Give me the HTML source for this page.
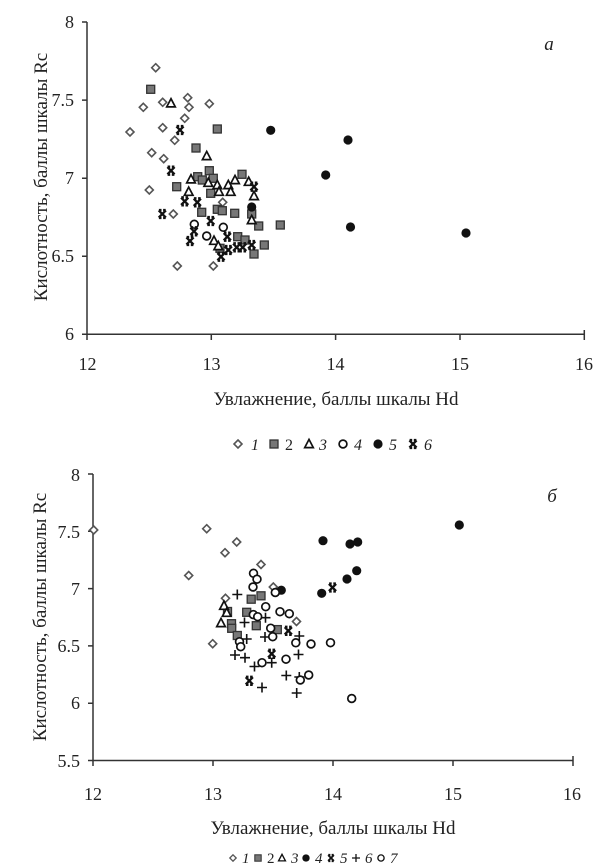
<!DOCTYPE html>
<html><head><meta charset="utf-8"><style>
html,body{margin:0;padding:0;background:#fff;}
svg{display:block;}
text{font-family:"Liberation Serif",serif;fill:#222;}
</style></head><body>
<svg width="600" height="868" viewBox="0 0 600 868" xmlns="http://www.w3.org/2000/svg">
<defs>
<path id="dm" d="M0,-4 L4,0 L0,4 L-4,0Z" fill="#fff" stroke="#555" stroke-width="1.6"/>
<rect id="sq" x="-4" y="-4" width="8" height="8" fill="#777" stroke="#333" stroke-width="1.3"/>
<path id="tr" d="M0,-4.6 L4.3,3.6 L-4.3,3.6Z" fill="#fff" stroke="#111" stroke-width="1.7"/>
<circle id="oc" r="3.9" fill="#fff" stroke="#111" stroke-width="1.7"/>
<circle id="fc" r="4.6" fill="#111"/>
<path id="xs" d="M-3.6,-3.6 L3.6,3.6 M3.6,-3.6 L-3.6,3.6 M-3.4,-4 H-0.8 M0.8,-4 H3.4 M-3.4,4 H-0.8 M0.8,4 H3.4" stroke="#111" stroke-width="2.3" fill="none"/>
<path id="pl" d="M-5,0 H5 M0,-5 V5" stroke="#111" stroke-width="1.6" fill="none"/>
</defs>
<rect width="600" height="868" fill="#fff"/>

<!-- ===== Chart a ===== -->
<g stroke="#333" stroke-width="1.5" fill="none">
<path d="M87,22 V334.3 H584.3"/>
<path d="M82,22 H87 M82,100.1 H87 M82,178.2 H87 M82,256.2 H87 M82,334.3 H87"/>
<path d="M87,334.3 V340 M211.3,334.3 V340 M335.6,334.3 V340 M460,334.3 V340 M584.3,330 V340"/>
</g>
<g font-size="18" text-anchor="end">
<text x="74" y="28">8</text>
<text x="74" y="106">7.5</text>
<text x="74" y="184">7</text>
<text x="74" y="262">6.5</text>
<text x="74" y="340">6</text>
</g>
<g font-size="18" text-anchor="middle">
<text x="87.5" y="370">12</text>
<text x="211.5" y="370">13</text>
<text x="335.5" y="370">14</text>
<text x="460" y="370">15</text>
<text x="584" y="370">16</text>
</g>
<text x="336" y="405" font-size="19" text-anchor="middle">Увлажнение, баллы шкалы Hd</text>
<text transform="translate(47,177) rotate(-90)" font-size="19" text-anchor="middle">Кислотность, баллы шкалы Rc</text>
<text x="549" y="50" font-size="19" font-style="italic" text-anchor="middle">а</text>

<!-- series 1 diamonds -->
<use href="#dm" x="155.7" y="67.7"/><use href="#dm" x="162.7" y="102.3"/><use href="#dm" x="143.3" y="107.3"/>
<use href="#dm" x="187.7" y="97.7"/><use href="#dm" x="189" y="107.3"/><use href="#dm" x="209.3" y="103.7"/>
<use href="#dm" x="184.7" y="118.3"/><use href="#dm" x="130" y="132"/><use href="#dm" x="162.7" y="127.7"/>
<use href="#dm" x="174.7" y="140.3"/><use href="#dm" x="151.7" y="152.7"/><use href="#dm" x="163.7" y="158.7"/>
<use href="#dm" x="149.3" y="190"/><use href="#dm" x="222.7" y="202.3"/><use href="#dm" x="173.3" y="214"/>
<use href="#dm" x="177.3" y="266"/><use href="#dm" x="213.3" y="266"/>
<!-- series 2 squares -->
<use href="#sq" x="150.7" y="89.3"/><use href="#sq" x="217.3" y="129"/><use href="#sq" x="196" y="148"/>
<use href="#sq" x="209.3" y="170.7"/><use href="#sq" x="242" y="174.3"/><use href="#sq" x="176.7" y="186.7"/>
<use href="#sq" x="197.7" y="176.7"/><use href="#sq" x="202.3" y="180"/><use href="#sq" x="213.3" y="178.3"/>
<use href="#sq" x="210.7" y="193.3"/><use href="#sq" x="217.3" y="209.3"/><use href="#sq" x="222.3" y="210.7"/>
<use href="#sq" x="234.7" y="213.3"/><use href="#sq" x="201.7" y="212.3"/><use href="#sq" x="258.7" y="226"/>
<use href="#sq" x="280.3" y="225"/><use href="#sq" x="237.7" y="236.7"/><use href="#sq" x="245" y="240"/>
<use href="#sq" x="264.3" y="245"/><use href="#sq" x="220" y="248.3"/><use href="#sq" x="254" y="254"/>
<use href="#sq" x="251.7" y="214"/>
<!-- series 3 triangles -->
<use href="#tr" x="171" y="103.3"/><use href="#tr" x="206.7" y="156"/><use href="#tr" x="191" y="179.3"/>
<use href="#tr" x="208.3" y="182.7"/><use href="#tr" x="217.3" y="185"/><use href="#tr" x="188.7" y="191.7"/>
<use href="#tr" x="219" y="191.7"/><use href="#tr" x="228.3" y="185"/><use href="#tr" x="230.7" y="191.7"/>
<use href="#tr" x="235" y="180"/><use href="#tr" x="248.7" y="181.7"/><use href="#tr" x="254" y="196"/>
<use href="#tr" x="214" y="240.7"/><use href="#tr" x="218.3" y="246"/><use href="#tr" x="251.7" y="220"/>
<!-- series 4 open circles -->
<use href="#oc" x="223.3" y="227.3"/><use href="#oc" x="194.3" y="224.3"/><use href="#oc" x="206.7" y="236"/>
<!-- series 5 filled circles -->
<use href="#fc" x="270.7" y="130.3"/><use href="#fc" x="325.7" y="175"/><use href="#fc" x="348" y="140"/>
<use href="#fc" x="350.5" y="227"/><use href="#fc" x="466" y="233"/><use href="#fc" x="251.7" y="207"/>
<!-- series 6 x-stars -->
<use href="#xs" x="180" y="130"/><use href="#xs" x="171" y="170.7"/><use href="#xs" x="184.7" y="201.3"/>
<use href="#xs" x="197.3" y="202.3"/><use href="#xs" x="254" y="186.7"/><use href="#xs" x="162.3" y="214"/>
<use href="#xs" x="210.7" y="221"/><use href="#xs" x="194" y="231.3"/><use href="#xs" x="190" y="241"/>
<use href="#xs" x="227.3" y="236.7"/><use href="#xs" x="242.7" y="247.3"/><use href="#xs" x="228.3" y="250"/>
<use href="#xs" x="236.7" y="247.3"/><use href="#xs" x="251.7" y="245"/><use href="#xs" x="221" y="256.7"/>

<!-- legend a -->
<g font-size="16" font-style="italic">
<use href="#dm" x="238" y="444"/><text x="251" y="450">1</text>
<use href="#sq" x="274" y="444"/><text x="285" y="450" font-style="normal">2</text>
<use href="#tr" x="309" y="444"/><text x="319" y="450">3</text>
<use href="#oc" x="343" y="444"/><text x="354" y="450">4</text>
<use href="#fc" x="378" y="444"/><text x="389" y="450">5</text>
<use href="#xs" x="413" y="444"/><text x="424" y="450">6</text>
</g>

<!-- ===== Chart б ===== -->
<g stroke="#333" stroke-width="1.5" fill="none">
<path d="M93,474 V760.5 H573"/>
<path d="M88,474 H93 M88,531.3 H93 M88,588.6 H93 M88,645.9 H93 M88,703.2 H93 M88,760.5 H93"/>
<path d="M93,760.5 V766 M213,760.5 V766 M333,760.5 V766 M453,760.5 V766 M573,756 V766"/>
</g>
<g font-size="18" text-anchor="end">
<text x="80" y="481">8</text>
<text x="80" y="538">7.5</text>
<text x="80" y="595">7</text>
<text x="80" y="652">6.5</text>
<text x="80" y="709">6</text>
<text x="80" y="767">5.5</text>
</g>
<g font-size="18" text-anchor="middle">
<text x="93" y="800">12</text>
<text x="213" y="800">13</text>
<text x="333" y="800">14</text>
<text x="453" y="800">15</text>
<text x="572" y="800">16</text>
</g>
<text x="333" y="834" font-size="19" text-anchor="middle">Увлажнение, баллы шкалы Hd</text>
<text transform="translate(46,617) rotate(-90)" font-size="19" text-anchor="middle">Кислотность, баллы шкалы Rc</text>
<text x="552" y="502" font-size="19" font-style="italic" text-anchor="middle">б</text>

<!-- series 1 diamonds -->
<use href="#dm" x="93.7" y="530"/><use href="#dm" x="188.7" y="575.5"/><use href="#dm" x="206.7" y="528.7"/>
<use href="#dm" x="225" y="552.7"/><use href="#dm" x="236.7" y="542"/><use href="#dm" x="261" y="564.5"/>
<use href="#dm" x="273.3" y="587"/><use href="#dm" x="225.5" y="598.3"/><use href="#dm" x="296.5" y="621.5"/>
<use href="#dm" x="212.7" y="643.7"/>
<!-- series 2 squares -->
<use href="#sq" x="251.2" y="599.2"/><use href="#sq" x="261" y="595.8"/><use href="#sq" x="227.5" y="611.5"/>
<use href="#sq" x="246.7" y="612.3"/><use href="#sq" x="231.5" y="623.7"/><use href="#sq" x="231.7" y="628.3"/>
<use href="#sq" x="256.3" y="625.7"/><use href="#sq" x="277.3" y="629.6"/><use href="#sq" x="237.3" y="635.5"/>
<!-- series 3 triangles -->
<use href="#tr" x="224" y="605.7"/><use href="#tr" x="226.7" y="612.7"/><use href="#tr" x="221" y="623"/>
<!-- series 4 filled -->
<use href="#fc" x="281.3" y="590.2"/><use href="#fc" x="321.7" y="593.3"/><use href="#fc" x="347" y="579"/>
<use href="#fc" x="356.7" y="570.7"/><use href="#fc" x="323" y="540.7"/><use href="#fc" x="350" y="544"/>
<use href="#fc" x="357.7" y="542"/><use href="#fc" x="459.3" y="525"/>
<!-- series 5 x-stars -->
<use href="#xs" x="332.5" y="587.5"/><use href="#xs" x="288.3" y="630.8"/><use href="#xs" x="271.7" y="653.8"/>
<use href="#xs" x="249.3" y="680.8"/>
<!-- series 6 plus -->
<use href="#pl" x="237.3" y="594.5"/><use href="#pl" x="244.5" y="622.5"/><use href="#pl" x="265.5" y="617.7"/>
<use href="#pl" x="246.7" y="639"/><use href="#pl" x="265" y="637"/><use href="#pl" x="299.3" y="636"/>
<use href="#pl" x="235" y="655"/><use href="#pl" x="245" y="657.7"/><use href="#pl" x="298.5" y="654.5"/>
<use href="#pl" x="271.7" y="662.7"/><use href="#pl" x="254.5" y="666.5"/><use href="#pl" x="286.3" y="675.5"/>
<use href="#pl" x="299.3" y="677"/><use href="#pl" x="262" y="687.5"/><use href="#pl" x="296.7" y="693"/>
<!-- series 7 open circles -->
<use href="#oc" x="253.5" y="573.3"/><use href="#oc" x="257" y="579.2"/><use href="#oc" x="253" y="587"/>
<use href="#oc" x="275.3" y="592.5"/><use href="#oc" x="265.7" y="606.7"/><use href="#oc" x="253.3" y="614.6"/>
<use href="#oc" x="257.7" y="616.7"/><use href="#oc" x="280" y="611.7"/><use href="#oc" x="289.3" y="613.7"/>
<use href="#oc" x="270.7" y="628.2"/><use href="#oc" x="239.5" y="641.7"/><use href="#oc" x="240.7" y="646.7"/>
<use href="#oc" x="272.7" y="636.7"/><use href="#oc" x="295.8" y="642.8"/><use href="#oc" x="311" y="644"/>
<use href="#oc" x="330.5" y="642.7"/><use href="#oc" x="262" y="662.7"/><use href="#oc" x="286" y="659.2"/>
<use href="#oc" x="308.7" y="675"/><use href="#oc" x="300.3" y="680"/><use href="#oc" x="351.7" y="698.5"/>

<!-- legend б -->
<g font-size="15" font-style="italic">
<g transform="translate(233,858) scale(0.8)"><use href="#dm"/></g><text x="242" y="863">1</text>
<g transform="translate(258,858) scale(0.8)"><use href="#sq"/></g><text x="267" y="863" font-style="normal">2</text>
<g transform="translate(282,858) scale(0.8)"><use href="#tr"/></g><text x="291" y="863">3</text>
<g transform="translate(306,858) scale(0.8)"><use href="#fc"/></g><text x="315" y="863">4</text>
<g transform="translate(331,858) scale(0.8)"><use href="#xs"/></g><text x="340" y="863">5</text>
<g transform="translate(356,858) scale(0.8)"><use href="#pl"/></g><text x="365" y="863">6</text>
<g transform="translate(381,858) scale(0.8)"><use href="#oc"/></g><text x="390" y="863">7</text>
</g>
</svg>
</body></html>
